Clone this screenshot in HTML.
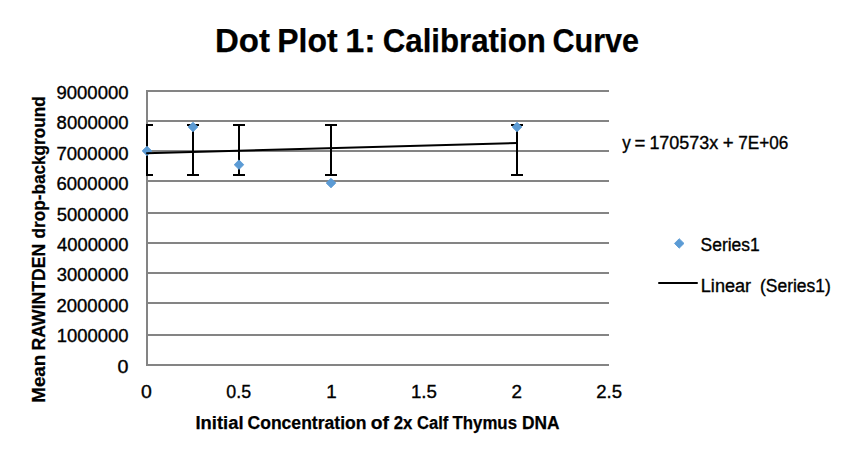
<!DOCTYPE html>
<html>
<head>
<meta charset="utf-8">
<title>Dot Plot 1: Calibration Curve</title>
<style>
  html, body { margin: 0; padding: 0; background: #ffffff; }
  body { width: 856px; height: 460px; overflow: hidden; position: relative; }
  svg { position: absolute; left: 0; top: 0; display: block; }
  text { font-family: "Liberation Sans", sans-serif; fill: #000000; stroke: #000000; stroke-width: 0.35px; }
  .b { font-weight: bold; stroke-width: 0.25px; }
  .grid rect { fill: #848484; }
  .eb rect { fill: #000000; }
  .pt { fill: #5b9bd5; stroke: #5b9bd5; stroke-width: 0.9px; stroke-linejoin: round; }
</style>
</head>
<body>
<svg width="856" height="460" viewBox="0 0 856 460">
  <rect x="0" y="0" width="856" height="460" fill="#ffffff"/>

  <!-- gridlines + vertical axis -->
  <g class="grid">
    <rect x="146" y="90" width="463" height="2"/>
    <rect x="146" y="120" width="463" height="2"/>
    <rect x="146" y="150" width="463" height="2"/>
    <rect x="146" y="180" width="463" height="2"/>
    <rect x="146" y="212" width="463" height="2"/>
    <rect x="146" y="242" width="463" height="2"/>
    <rect x="146" y="272" width="463" height="2"/>
    <rect x="146" y="302" width="463" height="2"/>
    <rect x="146" y="334" width="463" height="2"/>
    <rect x="146" y="364" width="463" height="2"/>
    <rect x="146" y="90" width="2" height="276"/>
  </g>

  <!-- error bars (clipped to plot area) -->
  <clipPath id="plot"><rect x="146" y="90" width="463" height="276"/></clipPath>
  <g class="eb" clip-path="url(#plot)">
    <rect x="146" y="124" width="2" height="52"/>
    <rect x="141" y="124" width="12" height="2"/>
    <rect x="141" y="174" width="12" height="2"/>
    <rect x="192" y="124" width="2" height="52"/>
    <rect x="187" y="124" width="12" height="2"/>
    <rect x="187" y="174" width="12" height="2"/>
    <rect x="238" y="124" width="2" height="52"/>
    <rect x="233" y="124" width="12" height="2"/>
    <rect x="233" y="174" width="12" height="2"/>
    <rect x="330" y="124" width="2" height="52"/>
    <rect x="325" y="124" width="12" height="2"/>
    <rect x="325" y="174" width="12" height="2"/>
    <rect x="516" y="124" width="2" height="52"/>
    <rect x="511" y="124" width="12" height="2"/>
    <rect x="511" y="174" width="12" height="2"/>
  </g>

  <!-- data points -->
  <path class="pt" d="M147 146.2 L151.8 150.9 L147 155.7 L142.2 150.9 Z"/>
  <path class="pt" d="M193 122.2 L197.8 127 L193 131.8 L188.2 127 Z"/>
  <path class="pt" d="M239 159.9 L243.8 164.7 L239 169.4 L234.2 164.7 Z"/>
  <path class="pt" d="M331 178.3 L335.8 183.1 L331 187.8 L326.2 183.1 Z"/>
  <path class="pt" d="M517 122.2 L521.8 127 L517 131.8 L512.2 127 Z"/>

  <!-- trendline (drawn over markers) -->
  <line x1="146.2" y1="153.2" x2="517" y2="143.1" stroke="#000000" stroke-width="2"/>

  <!-- chart title -->
  <text class="b" x="214.99" y="51.8" font-size="33.4" textLength="55.01" lengthAdjust="spacingAndGlyphs">Dot</text>
  <text class="b" x="277.26" y="51.8" font-size="33.4" textLength="60.31" lengthAdjust="spacingAndGlyphs">Plot</text>
  <text class="b" x="345.34" y="51.8" font-size="33.4" textLength="30.45" lengthAdjust="spacingAndGlyphs">1:</text>
  <text class="b" x="382.72" y="51.8" font-size="33.4" textLength="163.11" lengthAdjust="spacingAndGlyphs">Calibration</text>
  <text class="b" x="552.45" y="51.8" font-size="33.4" textLength="86.61" lengthAdjust="spacingAndGlyphs">Curve</text>

  <!-- y tick labels -->
  <text x="56.53" y="99.0" font-size="18" textLength="71.99" lengthAdjust="spacingAndGlyphs">9000000</text>
  <text x="56.61" y="129.0" font-size="18" textLength="71.92" lengthAdjust="spacingAndGlyphs">8000000</text>
  <text x="56.46" y="160.0" font-size="18" textLength="72.07" lengthAdjust="spacingAndGlyphs">7000000</text>
  <text x="56.46" y="190.0" font-size="18" textLength="72.07" lengthAdjust="spacingAndGlyphs">6000000</text>
  <text x="56.66" y="221.0" font-size="18" textLength="71.86" lengthAdjust="spacingAndGlyphs">5000000</text>
  <text x="56.98" y="251.0" font-size="18" textLength="71.54" lengthAdjust="spacingAndGlyphs">4000000</text>
  <text x="56.70" y="281.0" font-size="18" textLength="71.82" lengthAdjust="spacingAndGlyphs">3000000</text>
  <text x="56.47" y="312.0" font-size="18" textLength="72.05" lengthAdjust="spacingAndGlyphs">2000000</text>
  <text x="56.70" y="342.0" font-size="18" textLength="71.82" lengthAdjust="spacingAndGlyphs">1000000</text>
  <text x="117.63" y="373.0" font-size="18" textLength="10.94" lengthAdjust="spacingAndGlyphs">0</text>

  <!-- x tick labels -->
  <text x="141.14" y="397.8" font-size="18" textLength="10.82" lengthAdjust="spacingAndGlyphs">0</text>
  <text x="226.31" y="397.8" font-size="18" textLength="24.74" lengthAdjust="spacingAndGlyphs">0.5</text>
  <text x="326.17" y="397.8" font-size="18" textLength="10.45" lengthAdjust="spacingAndGlyphs">1</text>
  <text x="410.98" y="397.8" font-size="18" textLength="26.01" lengthAdjust="spacingAndGlyphs">1.5</text>
  <text x="511.56" y="397.8" font-size="18" textLength="10.49" lengthAdjust="spacingAndGlyphs">2</text>
  <text x="596.17" y="397.8" font-size="18" textLength="25.81" lengthAdjust="spacingAndGlyphs">2.5</text>

  <!-- x axis title -->
  <text class="b" x="195.47" y="429" font-size="18.8" textLength="48.03" lengthAdjust="spacingAndGlyphs">Initial</text>
  <text class="b" x="247.48" y="429" font-size="18.8" textLength="119.01" lengthAdjust="spacingAndGlyphs">Concentration</text>
  <text class="b" x="370.75" y="429" font-size="18.8" textLength="18.21" lengthAdjust="spacingAndGlyphs">of</text>
  <text class="b" x="393.71" y="429" font-size="18.8" textLength="18.73" lengthAdjust="spacingAndGlyphs">2x</text>
  <text class="b" x="417.02" y="429" font-size="18.8" textLength="31.25" lengthAdjust="spacingAndGlyphs">Calf</text>
  <text class="b" x="452.52" y="429" font-size="18.8" textLength="64.47" lengthAdjust="spacingAndGlyphs">Thymus</text>
  <text class="b" x="522.04" y="429" font-size="18.8" textLength="37.62" lengthAdjust="spacingAndGlyphs">DNA</text>

  <!-- y axis title -->
  <g transform="translate(45.2 401.4) rotate(-90)">
  <text class="b" x="-1.25" y="0" font-size="18.8" textLength="47.82" lengthAdjust="spacingAndGlyphs">Mean</text>
  <text class="b" x="50.92" y="0" font-size="18.8" textLength="106.77" lengthAdjust="spacingAndGlyphs">RAWINTDEN</text>
  <text class="b" x="162.90" y="0" font-size="18.8" textLength="142.23" lengthAdjust="spacingAndGlyphs">drop-background</text>
  </g>

  <!-- trendline equation -->
  <text x="622.31" y="149.2" font-size="18" textLength="8.50" lengthAdjust="spacingAndGlyphs">y</text>
  <text x="634.49" y="149.2" font-size="18" textLength="10.87" lengthAdjust="spacingAndGlyphs">=</text>
  <text x="649.39" y="149.2" font-size="18" textLength="68.86" lengthAdjust="spacingAndGlyphs">170573x</text>
  <text x="722.82" y="149.2" font-size="18" textLength="10.87" lengthAdjust="spacingAndGlyphs">+</text>
  <text x="738.21" y="149.2" font-size="18" textLength="50.01" lengthAdjust="spacingAndGlyphs">7E+06</text>

  <!-- legend -->
  <path class="pt" d="M679.2 238.7 L684.0 243.4 L679.2 248.2 L674.5 243.4 Z"/>
  <rect x="658" y="282" width="40" height="2" rx="1" fill="#000000"/>
  <text x="700.60" y="250.9" font-size="18" textLength="59.15" lengthAdjust="spacingAndGlyphs">Series1</text>
  <text x="700.82" y="292.1" font-size="18" textLength="50.29" lengthAdjust="spacingAndGlyphs">Linear</text>
  <text x="760.02" y="292.1" font-size="18" textLength="70.76" lengthAdjust="spacingAndGlyphs">(Series1)</text>
</svg>
</body>
</html>
